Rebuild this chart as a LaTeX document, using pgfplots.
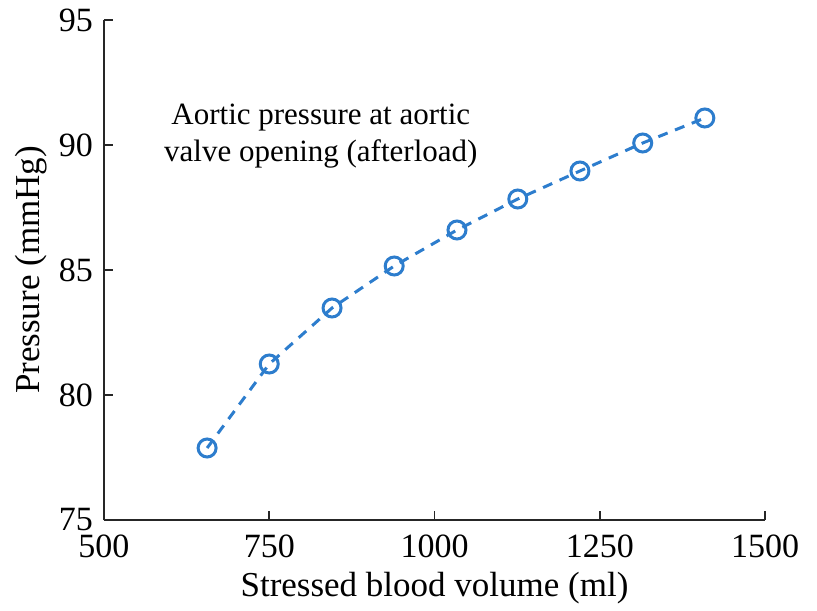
\documentclass[border=0pt]{standalone}
\usepackage{pgfplots}
\pgfplotsset{compat=1.18}
\usepackage{fontspec}
\setmainfont{Liberation Serif}
\definecolor{lineblue}{RGB}{45,125,205}
\definecolor{axgray}{RGB}{38,38,38}
\begin{document}
\begin{tikzpicture}
\begin{axis}[
  scale only axis,
  width=330.5pt, height=250pt,
  xmin=500, xmax=1500, ymin=75, ymax=95,
  axis x line=bottom, axis y line=left,
  axis line style={-, axgray, line width=0.8pt},
  xtick={500,750,1000,1250,1500},
  ytick={75,80,85,90,95},
  tick align=inside,
  major tick length=4.5pt,
  every tick/.style={axgray, line width=0.9pt},
  ticklabel style={font=\fontsize{17}{20}\selectfont},
  xticklabel style={yshift=-4pt},
  yticklabel style={xshift=-2pt},
  /pgf/number format/assume math mode=true,
  /pgf/number format/1000 sep={},
  xlabel={Stressed blood volume (ml)},
  ylabel={Pressure (mmHg)},
  label style={font=\fontsize{17.5}{20}\selectfont},
  xlabel style={yshift=0pt},
  ylabel style={yshift=-1pt},
  clip=false,
]
\addplot[color=lineblue, line width=1.5pt, dash pattern=on 5pt off 4pt,
  mark=o, mark size=4.5pt, mark options={solid, line width=1.5pt}]
  coordinates {
  (656,77.88) (750,81.24) (845,83.48) (939,85.16) (1034,86.60)
  (1126,87.84) (1220,88.96) (1315,90.08) (1409,91.08)
  };
\node[align=center, font=\fontsize{15.5}{18.5}\selectfont] at (axis cs:828,90.35)
  {Aortic pressure at aortic\\valve opening (afterload)};
\end{axis}
\path ([xshift=26pt]current axis.south east) circle[radius=0pt];
\path ([xshift=-52pt]current axis.south west) circle[radius=0pt];
\path ([yshift=10pt]current axis.north west) circle[radius=0pt];
\end{tikzpicture}
\end{document}
